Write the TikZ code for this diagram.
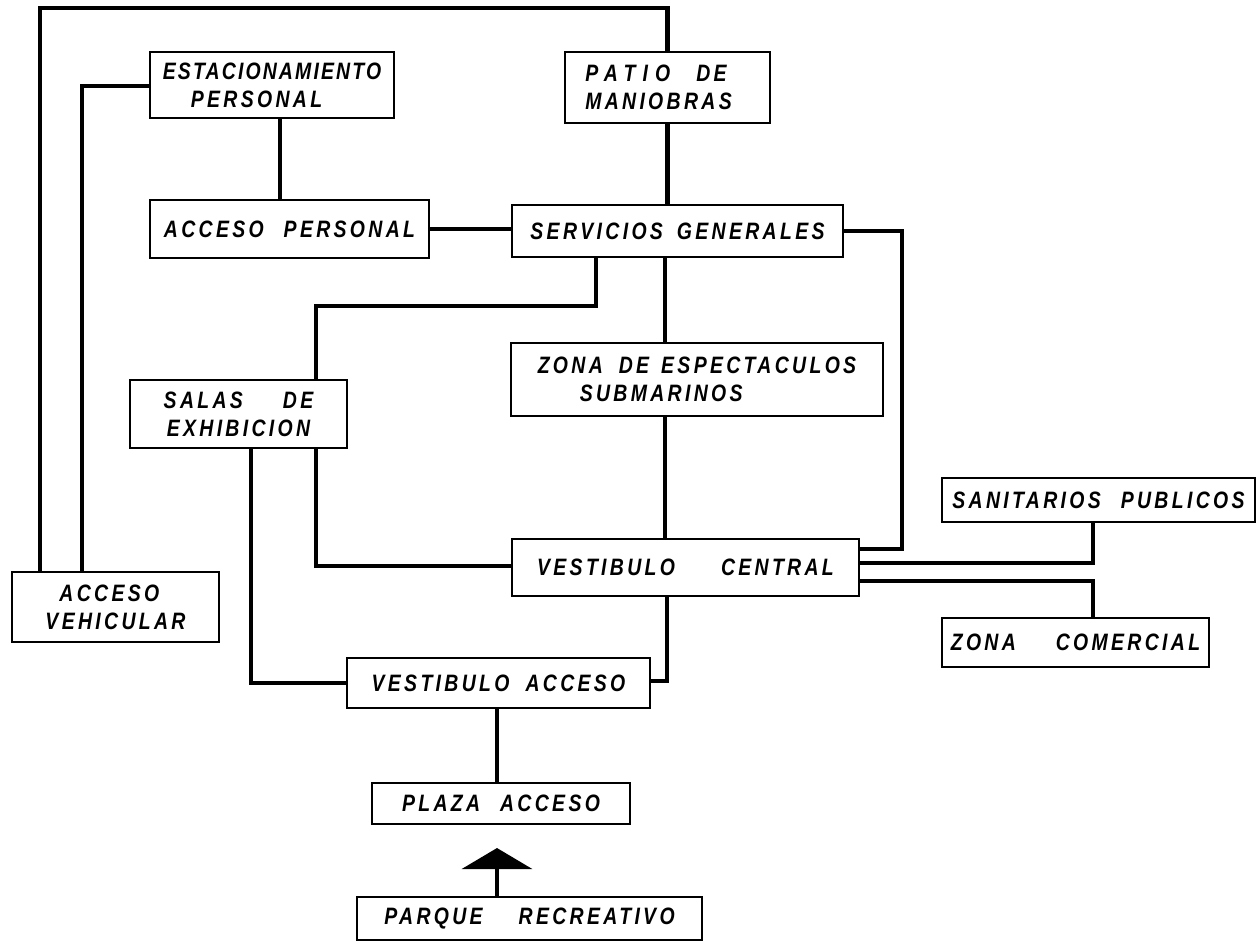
\documentclass[tikz,border=0pt]{standalone}
\usepackage{fontspec}
\usetikzlibrary{arrows.meta}
\newfontfamily\lblfont{Liberation Sans}[LetterSpace=14,FakeStretch=0.82]
\newlength\pxu
\setlength\pxu{0.02cm}
\newcommand{\gp}[1]{\hspace*{#1\pxu}}
\begin{document}
\begin{tikzpicture}[x=0.02cm,y=-0.02cm,
  bx/.style 2 args={draw, line width=0.8pt, minimum width=#1*0.02cm, minimum height=#2*0.02cm,
    inner sep=0pt, font=\lblfont\bfseries\itshape\fontsize{13.5}{16}\selectfont},
  conn/.style={line width=2.3pt, line join=miter, line cap=butt}]
\useasboundingbox (0,0) rectangle (1260,948);
\fill[white] (0,0) rectangle (1260,948);

% boxes
\node[bx={244}{66}, align=left] (estac) at (272,85) {{\addfontfeature{LetterSpace=9}ESTACIONAMIENTO}\\\gp{28}PERSONAL};
\node[bx={205}{71}, align=left] (patio) at (667.5,87.5) {{\addfontfeature{LetterSpace=30}PATIO}\gp{26}DE\\MANIOBRAS\gp{18}};
\node[bx={279}{58}] (accper) at (289.5,229) {ACCESO\gp{20}PERSONAL};
\node[bx={331}{52}] (servgen) at (677.5,231) {SERVICIOS\gp{14}GENERALES};
\node[bx={372}{73}, align=left] (zona) at (697,379.5) {ZONA\gp{16}DE\gp{12}ESPECTACULOS\\\gp{42}SUBMARINOS};
\node[bx={217}{68}, align=center] (salas) at (238.5,414) {SALAS\gp{40}DE\\EXHIBICION};
\node[bx={207}{70}, align=left] (accveh) at (115.5,607) {\gp{14}ACCESO\\VEHICULAR};
\node[bx={347}{57}] (vcentral) at (685.5,567.5) {VESTIBULO\gp{46}CENTRAL};
\node[bx={313}{44}] (sanit) at (1098.5,500) {SANITARIOS\gp{20}PUBLICOS};
\node[bx={267}{49}] (zcom) at (1075.5,642.5) {ZONA\gp{40}COMERCIAL};
\node[bx={303}{50}] (vacceso) at (498.5,683) {VESTIBULO\gp{16}ACCESO};
\node[bx={258}{41}] (plaza) at (501,803.5) {PLAZA\gp{20}ACCESO};
\node[bx={345}{43}] (parque) at (529.5,918.5) {PARQUE\gp{36}RECREATIVO};

% bend points
\coordinate (cTL) at (40,8);
\coordinate (c82) at (82,86);
\coordinate (c280) at (280,0);
\coordinate (cR) at (902,549);
\coordinate (cS1) at (596,306);
\coordinate (cS2) at (316,306);
\coordinate (c665) at (665,0);
\coordinate (cV1) at (316,566);
\coordinate (cA1) at (251,683);
\coordinate (cA2) at (667,681);
\coordinate (cP) at (1093,563);
\coordinate (cZ) at (1093,581);
\coordinate (c497) at (497,0);
\coordinate (tip) at (497,848);

% connectors
\draw[conn] (cTL |- accveh.north) -- (cTL) -| (patio.north);
\draw[conn] (c82 |- accveh.north) -- (c82) -- (c82 -| estac.west);
\draw[conn] (c280 |- estac.south) -- (c280 |- accper.north);
\draw[conn] (accper.east) -- (accper.east -| servgen.west);
\draw[conn] (patio.south) -- (patio.south |- servgen.north);
\draw[conn] (servgen.east) -| (cR) -- (cR -| vcentral.east);
\draw[conn] (cS1 |- servgen.south) -- (cS1) -- (cS2) -- (cS2 |- salas.north);
\draw[conn] (c665 |- servgen.south) -- (c665 |- zona.north);
\draw[conn] (c665 |- zona.south) -- (c665 |- vcentral.north);
\draw[conn] (cV1 |- salas.south) -- (cV1) -- (cV1 -| vcentral.west);
\draw[conn] (cA1 |- salas.south) -- (cA1) -- (cA1 -| vacceso.west);
\draw[conn] (cA2 |- vcentral.south) -- (cA2) -- (cA2 -| vacceso.east);
\draw[conn] (cP -| vcentral.east) -- (cP) -- (cP |- sanit.south);
\draw[conn] (cZ -| vcentral.east) -- (cZ) -- (cZ |- zcom.north);
\draw[conn] (c497 |- vacceso.south) -- (c497 |- plaza.north);
\draw[conn, -{Triangle[width=1.4cm,length=0.42cm]}] (tip |- parque.north) -- (tip);
\end{tikzpicture}
\end{document}
